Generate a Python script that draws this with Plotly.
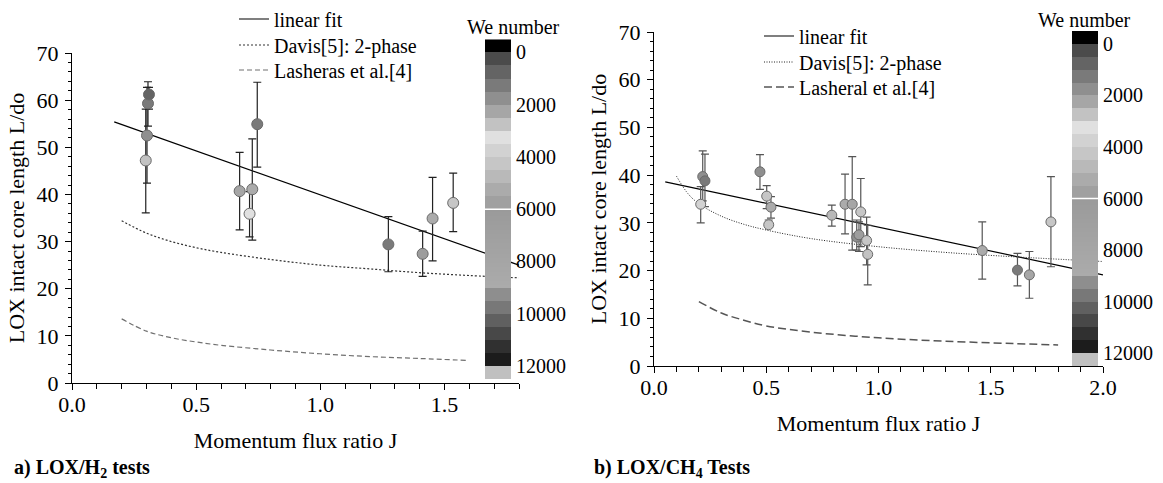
import plotly.graph_objects as go

# ---------------- data ----------------
# a) LOX/H2 tests
h2_J = [0.297, 0.302, 0.306, 0.310, 0.675, 0.715, 0.726, 0.746, 1.274, 1.412, 1.452, 1.535]
h2_L = [47.2, 52.5, 59.3, 61.2, 40.7, 35.9, 41.1, 54.9, 29.4, 27.4, 34.9, 38.2]
h2_lo = [36.1, 42.4, 54.5, 58.1, 32.5, 31.0, 30.3, 45.8, 23.6, 22.6, 25.9, 32.1]
h2_hi = [58.1, 62.7, 63.9, 62.7, 48.9, 40.6, 51.8, 63.8, 35.3, 32.2, 43.6, 44.5]
h2_we = [2750, 1750, 1250, 750, 2250, 3250, 5250, 1250, 1250, 6500, 5250, 4250]

h2_fit_J = [0.17, 1.8]
h2_fit_L = [55.4, 25.0]
h2_davis_J = [0.2, 0.3, 0.4, 0.5, 0.6, 0.8, 1.0, 1.2, 1.4, 1.6, 1.8]
h2_davis_L = [34.4, 31.8, 30.0, 28.7, 27.7, 26.2, 25.0, 24.2, 23.4, 22.8, 22.3]
h2_lash_J = [0.2, 0.3, 0.4, 0.5, 0.6, 0.8, 1.0, 1.2, 1.4, 1.59]
h2_lash_L = [13.6, 11.0, 9.6, 8.7, 8.0, 7.0, 6.2, 5.6, 5.2, 4.8]

# b) LOX/CH4 tests
ch4_J = [0.208, 0.217, 0.227, 0.472, 0.502, 0.521, 0.511, 0.792, 0.851, 0.883,
         0.921, 0.903, 0.913, 0.947, 0.952, 1.462, 1.619, 1.672, 1.768]
ch4_L = [33.9, 39.7, 38.8, 40.7, 35.6, 33.3, 29.6, 31.6, 33.9, 33.9,
         32.3, 27.0, 27.5, 26.3, 23.4, 24.2, 20.1, 19.1, 30.2]
ch4_lo = [30.0, 34.6, 33.4, 37.0, 33.0, 31.0, 29.1, 29.3, 27.7, 24.3,
          25.0, 24.3, 24.0, 21.2, 17.0, 18.2, 16.8, 14.2, 20.8]
ch4_hi = [37.6, 45.1, 44.4, 44.3, 37.8, 35.5, 30.6, 33.7, 40.2, 43.9,
          39.3, 30.6, 30.2, 31.2, 29.5, 30.2, 23.6, 24.0, 39.7]
ch4_we = [3750, 1750, 1250, 1750, 4250, 5250, 4250, 4750, 5250, 2250,
          4250, 1750, 6500, 4250, 2750, 5250, 1250, 2250, 4250]

ch4_fit_J = [0.05, 2.0]
ch4_fit_L = [38.6, 19.1]
ch4_davis_J = [0.1, 0.15, 0.2, 0.3, 0.4, 0.5, 0.7, 1.0, 1.3, 1.6, 2.0]
ch4_davis_L = [39.8, 36.2, 34.0, 31.4, 29.7, 28.5, 26.7, 25.0, 23.8, 22.9, 21.9]
ch4_lash_J = [0.2, 0.3, 0.4, 0.5, 0.7, 1.0, 1.3, 1.6, 1.8]
ch4_lash_L = [13.5, 11.1, 9.6, 8.4, 7.1, 5.9, 5.2, 4.7, 4.4]

# We-number colour map (levels of 500, Origin style)
we_levels = [-500, 0, 500, 1000, 1500, 2000, 2500, 3000, 3500, 4000, 4500, 5000,
             5500, 6000, 9000, 9500, 10000, 10500, 11000, 11500, 12000, 12500]
we_colors_top = ['#000000', '#4b4b4b', '#646464', '#7a7a7a', '#8f8f8f', '#a6a6a6',
                 '#c2c2c2', '#e0e0e0', '#d2d2d2', '#c6c6c6', '#b9b9b9', '#ababab',
                 '#a0a0a0', '#9a9a9a', '#8e8e8e', '#787878', '#606060', '#484848',
                 '#303030', '#1c1c1c', '#c0c0c0']
we_colors_bot = ['#000000', '#4b4b4b', '#646464', '#7a7a7a', '#8f8f8f', '#a6a6a6',
                 '#c2c2c2', '#e0e0e0', '#d2d2d2', '#c6c6c6', '#b9b9b9', '#ababab',
                 '#a0a0a0', '#ababab', '#8e8e8e', '#787878', '#606060', '#484848',
                 '#303030', '#1c1c1c', '#c0c0c0']
we_ticks = [0, 2000, 4000, 6000, 8000, 10000, 12000]
we_ticktext = ["0", "2000", "4000", "6000", "8000", "10000", "12000"]
we_separator = 6000

# ---------------- styling helpers ----------------
W, H = 1163, 483
FONT = "Liberation Serif"
WMIN, WMAX = we_levels[0], we_levels[-1]


def nx(px):
    return px / W


def ny(py):
    return 1 - py / H


def norm(v):
    return (v - WMIN) / (WMAX - WMIN)


colorscale = []
for i in range(len(we_colors_top)):
    colorscale.append([norm(we_levels[i]), we_colors_top[i]])
    colorscale.append([norm(we_levels[i + 1]), we_colors_bot[i]])

fig = go.Figure()


def add_panel(xa, ya, legends, J, L, lo, hi, we, fitJ, fitL, dJ, dL, lJ, lL,
              lash_name, err_color, msize, davis_style, lash_style):
    fig.add_trace(go.Scatter(
        x=fitJ, y=fitL, mode="lines", name="linear fit",
        line=dict(color="black", width=1.2), xaxis=xa, yaxis=ya, legend=legends[0]))
    fig.add_trace(go.Scatter(
        x=dJ, y=dL, mode="lines", name="Davis[5]: 2-phase", line_shape="spline",
        line=davis_style, xaxis=xa, yaxis=ya, legend=legends[1]))
    fig.add_trace(go.Scatter(
        x=lJ, y=lL, mode="lines", name=lash_name, line_shape="spline",
        line=lash_style, xaxis=xa, yaxis=ya, legend=legends[2]))
    fig.add_trace(go.Scatter(
        x=J, y=L, mode="markers", showlegend=False,
        error_y=dict(type="data", symmetric=False,
                     array=[h - y for h, y in zip(hi, L)],
                     arrayminus=[y - l for l, y in zip(lo, L)],
                     color=err_color, thickness=1.2, width=4),
        marker=dict(size=msize, color=we, colorscale=colorscale, cmin=WMIN, cmax=WMAX,
                    line=dict(color="#6a6a6a", width=1)),
        xaxis=xa, yaxis=ya))


add_panel("x", "y", ["legend", "legend2", "legend3"], h2_J, h2_L, h2_lo, h2_hi, h2_we,
          h2_fit_J, h2_fit_L, h2_davis_J, h2_davis_L, h2_lash_J, h2_lash_L,
          "Lasheras et al.[4]", "#222222", 11,
          dict(color="#333333", width=1.2, dash="2px,2px"),
          dict(color="#707070", width=1.2, dash="5px,3px"))
add_panel("x2", "y2", ["legend4", "legend5", "legend6"], ch4_J, ch4_L, ch4_lo, ch4_hi,
          ch4_we, ch4_fit_J, ch4_fit_L, ch4_davis_J, ch4_davis_L, ch4_lash_J, ch4_lash_L,
          "Lasheral et al.[4]", "#555555", 10,
          dict(color="#222222", width=1.0, dash="1px,1.5px"),
          dict(color="#555555", width=1.5, dash="8px,4px"))

# colour bars drawn as heatmaps in their own small axes
step = 50
centers = [WMIN + step / 2 + step * k for k in range(int((WMAX - WMIN) / step))]
for xa, ya in (("x3", "y3"), ("x4", "y4")):
    fig.add_trace(go.Heatmap(
        z=[[c] for c in centers], y=centers, x0=0, dx=1,
        colorscale=colorscale, zmin=WMIN, zmax=WMAX, showscale=False,
        hoverinfo="skip", xaxis=xa, yaxis=ya))
    fig.add_shape(type="line", xref=xa, yref=ya, x0=-0.5, x1=0.5,
                  y0=we_separator, y1=we_separator, line=dict(color="white", width=1.5))

TICKFONT = dict(size=22, family=FONT, color="black")
TITLEFONT = dict(size=22, family=FONT, color="black")

main_axis = dict(showline=True, linecolor="black", linewidth=1.3, ticks="outside",
                 ticklen=6, tickwidth=1.2, tickcolor="black", showgrid=False,
                 zeroline=False, automargin=False, tickfont=TICKFONT)

xa_common = dict(main_axis, dtick=0.5, tickformat=".1f", ticklabelstandoff=-5,
                 minor=dict(dtick=0.1, ticks="outside", ticklen=5, tickcolor="black",
                            tickwidth=1.1, showgrid=False),
                 title=dict(text="Momentum flux ratio J", standoff=17, font=TITLEFONT))
ya_common = dict(main_axis, range=[0, 70], dtick=10,
                 minor=dict(dtick=2, ticks="outside", ticklen=3, tickcolor="black",
                            tickwidth=1.1, showgrid=False),
                 ticklabelstandoff=2,
                 title=dict(text="LOX intact core length L/do", standoff=5,
                            font=TITLEFONT))

cb_y = dict(range=[WMAX, WMIN], side="right", tickvals=we_ticks, ticktext=we_ticktext,
            ticks="", showline=False, showgrid=False, zeroline=False,
            ticklabelstandoff=4, automargin=False,
            tickfont=dict(size=20, family=FONT, color="black"))
cb_x = dict(range=[-0.5, 0.5], visible=False, showgrid=False, zeroline=False,
            automargin=False)


def leg(px, py):
    return dict(x=nx(px), y=ny(py), xanchor="left", yanchor="middle",
                bgcolor="rgba(0,0,0,0)", font=dict(size=20, family=FONT, color="black"),
                borderwidth=0)


fig.update_layout(
    template="none",
    width=W, height=H, margin=dict(l=0, r=0, t=0, b=0, autoexpand=False),
    paper_bgcolor="white", plot_bgcolor="rgba(0,0,0,0)",
    font=dict(family=FONT, color="black"),
    xaxis=dict(xa_common, domain=[nx(72), nx(519)], range=[0, 1.8], anchor="y"),
    yaxis=dict(ya_common, domain=[ny(383), ny(53)], anchor="x"),
    xaxis2=dict(xa_common, domain=[nx(654), nx(1103)], range=[0, 2.0], anchor="y2"),
    yaxis2=dict(ya_common, domain=[ny(366), ny(32)], anchor="x2"),
    xaxis3=dict(cb_x, domain=[nx(485), nx(511)], anchor="y3"),
    yaxis3=dict(cb_y, domain=[ny(379), ny(39.3)], anchor="x3"),
    xaxis4=dict(cb_x, domain=[nx(1072), nx(1098)], anchor="y4"),
    yaxis4=dict(cb_y, domain=[ny(366), ny(31)], anchor="x4"),
    legend=leg(234, 19), legend2=leg(234, 45), legend3=leg(234, 70),
    legend4=leg(759, 36), legend5=leg(759, 62), legend6=leg(759, 87),
    showlegend=True,
)

ann = dict(xref="paper", yref="paper", showarrow=False, yanchor="middle")
fig.add_annotation(text="We number", x=nx(513), y=ny(27), xanchor="center",
                   font=dict(size=20, family=FONT), **ann)
fig.add_annotation(text="We number", x=nx(1084), y=ny(20), xanchor="center",
                   font=dict(size=20, family=FONT), **ann)
fig.add_annotation(text="<b>a) LOX/H<sub>2</sub> tests</b>", x=nx(12), y=ny(468),
                   xanchor="left", font=dict(size=20, family=FONT), **ann)
fig.add_annotation(text="<b>b) LOX/CH<sub>4</sub> Tests</b>", x=nx(592), y=ny(468),
                   xanchor="left", font=dict(size=20, family=FONT), **ann)

fig.write_html("out.html", config={"displayModeBar": False},
               post_script="document.body.style.margin='0';")
